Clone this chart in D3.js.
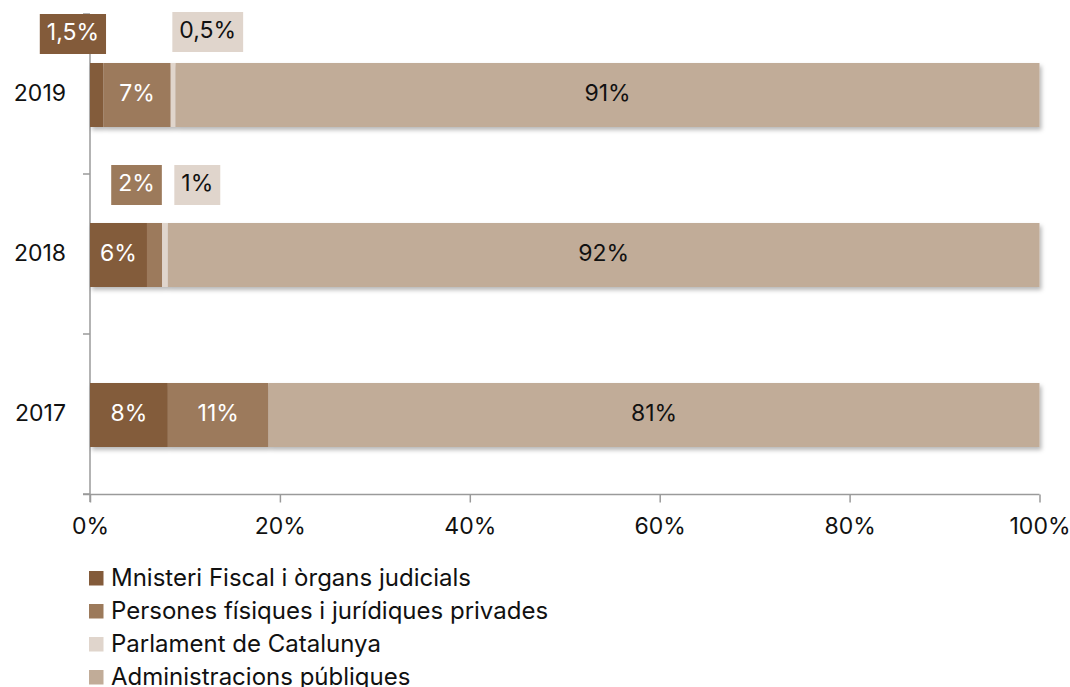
<!DOCTYPE html>
<html><head><meta charset="utf-8">
<script src="https://cdn.jsdelivr.net/npm/d3@7/dist/d3.min.js"></script>
<style>
html,body{margin:0;padding:0;background:#fff;overflow:hidden;}
svg text{font-family:Inter,"Open Sans",sans-serif;font-weight:400;}
</style></head>
<body><svg id="c" width="1070" height="687"></svg>
<script>
// ---- data ----
const years = ["2019", "2018", "2017"];
const seriesNames = ["Mnisteri Fiscal i òrgans judicials", "Persones físiques i jurídiques privades", "Parlament de Catalunya", "Administracions públiques"];
const ministeri = [1.4, 6.0, 8.2];
const persones = [7.1, 1.6, 10.6];
const parlament = [0.5, 0.6, 0.0];
const administracions = [91.0, 91.8, 81.2];
const labelsMinisteri = ["1,5%", "6%", "8%"];
const labelsPersones = ["7%", "2%", "11%"];
const labelsParlament = ["0,5%", "1%", ""];
const labelsAdmin = ["91%", "92%", "81%"];
const xTicks = [0, 20, 40, 60, 80, 100];

const colors = ["#835B3A", "#9C7A5B", "#E0D5CC", "#C1AC98"];
const textColors = ["#fff", "#fff", "#111", "#111"];
const FS = 23;
const LFS = 24;

const svg = d3.select("#c");
const x = d3.scaleLinear().domain([0, 100]).range([90, 1039.5]);
const y = d3.scaleBand().domain(years).range([14, 494]).paddingInner(0).paddingOuter(0);
const barH = 64;

const defs = svg.append("defs");
const f = defs.append("filter").attr("id", "sh").attr("x", "-5%").attr("y", "-20%").attr("width", "110%").attr("height", "150%");
f.append("feDropShadow").attr("dx", 2).attr("dy", 3).attr("stdDeviation", 2).attr("flood-color", "#000").attr("flood-opacity", 0.28);

// axes
const gx = svg.append("g").attr("transform", "translate(0,494.5)")
  .call(d3.axisBottom(x).tickValues(xTicks).tickFormat(d => d + "%").tickSize(8).tickSizeOuter(0));
gx.select(".domain").attr("d", "M83,0H1039.5").attr("stroke", "#9a9a9a").attr("stroke-width", 1.5);
gx.selectAll(".tick line").attr("stroke", "#9a9a9a").attr("stroke-width", 1.5);
gx.selectAll(".tick text").attr("font-size", FS).attr("fill", "#111").attr("dy", 0).attr("y", 39);

const gy = svg.append("g").attr("transform", "translate(90,0)");
gy.append("line").attr("x1", 0).attr("x2", 0).attr("y1", 14).attr("y2", 502).attr("stroke", "#9a9a9a").attr("stroke-width", 1.5);
const bounds = years.map(d => y(d)).concat([y.range()[1]]);
gy.selectAll("line.t").data(bounds).join("line").attr("class", "t")
  .attr("x1", -7).attr("x2", 0).attr("y1", d => d).attr("y2", d => d).attr("stroke", "#9a9a9a").attr("stroke-width", 1.5);
svg.append("g").selectAll("text").data(years).join("text")
  .attr("x", 66).attr("y", d => y(d) + y.bandwidth() / 2 + 1).attr("text-anchor", "end").attr("dominant-baseline", "middle")
  .attr("font-size", FS).attr("fill", "#111").text(d => d);

// stacks
const rows = years.map((yr, i) => ({year: yr, s0: ministeri[i], s1: persones[i], s2: parlament[i], s3: administracions[i]}));
const stack = d3.stack().keys(["s0", "s1", "s2", "s3"])(rows);
const labelArrs = [labelsMinisteri, labelsPersones, labelsParlament, labelsAdmin];

const bars = svg.append("g").attr("filter", "url(#sh)");
stack.forEach((layer, k) => {
  bars.selectAll("rect.l" + k).data(layer).join("rect").attr("class", "l" + k)
    .attr("x", d => x(d[0])).attr("width", d => Math.max(0, x(d[1]) - x(d[0])))
    .attr("y", d => y(d.data.year) + y.bandwidth() / 2 - barH / 2 + 1).attr("height", barH)
    .attr("fill", colors[k]);
});

// inside labels and callouts
const callouts = {
  "0-0": {cx: -1.8, dy: -61},
  "2-0": {cx: 12.4, dy: -63},
  "1-1": {cx: 4.9, dy: -70},
  "2-1": {cx: 11.3, dy: -70}
};
const lg = svg.append("g");
stack.forEach((layer, k) => {
  layer.forEach((d, i) => {
    const txt = labelArrs[k][i];
    if (!txt) return;
    const cy = y(d.data.year) + y.bandwidth() / 2 + 1;
    const key = k + "-" + i;
    if (callouts[key]) {
      const c = callouts[key];
      const t = lg.append("text").attr("x", x(c.cx)).attr("y", cy + c.dy).attr("text-anchor", "middle")
        .attr("dominant-baseline", "middle").attr("font-size", FS).attr("fill", textColors[k]).text(txt);
      const bb = t.node().getBBox();
      lg.insert("rect", "text").attr("x", bb.x - 7).attr("y", cy + c.dy - 20).attr("width", bb.width + 14).attr("height", 40).attr("fill", colors[k]);
    } else {
      lg.append("text").attr("x", (x(d[0]) + x(d[1])) / 2).attr("y", cy).attr("text-anchor", "middle")
        .attr("dominant-baseline", "middle").attr("font-size", FS).attr("fill", textColors[k]).text(txt);
    }
  });
});

// legend
const leg = svg.append("g").selectAll("g").data(seriesNames).join("g")
  .attr("transform", (d, i) => `translate(89,${578 + i * 33})`);
leg.append("rect").attr("x", 0).attr("y", -7).attr("width", 14.5).attr("height", 14.5).attr("fill", (d, i) => colors[i]);
leg.append("text").attr("x", 22).attr("y", 1).attr("dominant-baseline", "middle").attr("font-size", LFS).attr("fill", "#111").text(d => d);
</script></body></html>
